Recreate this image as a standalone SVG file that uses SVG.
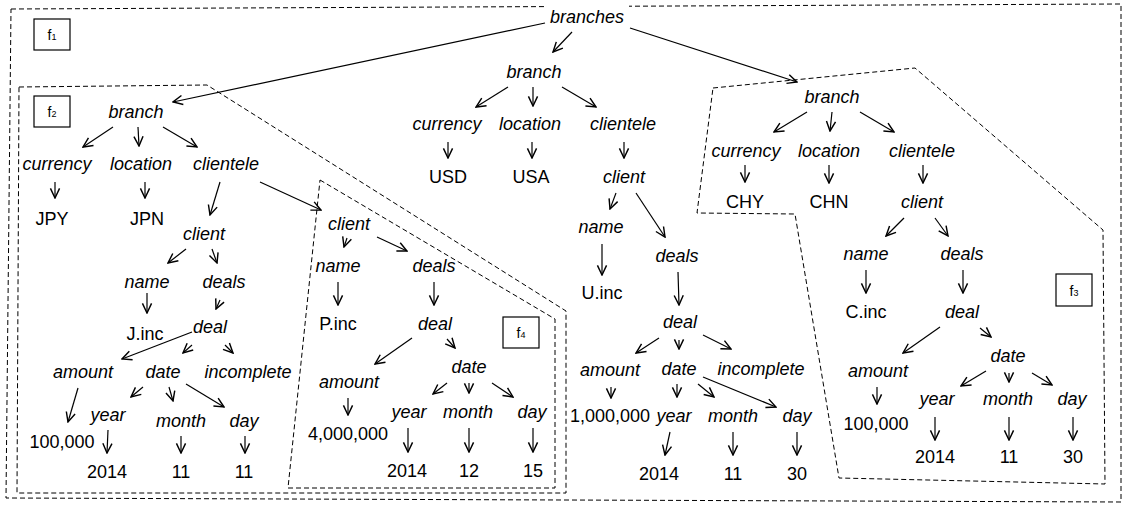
<svg xmlns="http://www.w3.org/2000/svg" width="1126" height="507" viewBox="0 0 1126 507">
  <style>
    text { font-family: "Liberation Sans", Arial, Helvetica, sans-serif; font-size: 18px; fill: #000; text-anchor: middle; }
    .i { font-style: italic; }
    .frag { fill: none; stroke: #000; stroke-width: 1; stroke-dasharray: 5 3; }
    .tag rect { fill: #fff; stroke: #000; stroke-width: 1.2; }
    .tag text { font-size: 14px; }
    .tag tspan { font-size: 9px; }
    #connectors line { stroke: #000; stroke-width: 1.2; marker-end: url(#head); }
  </style>
  <defs>
    <marker id="head" markerUnits="userSpaceOnUse" markerWidth="12" markerHeight="12" viewBox="-9 -5 10 10" refX="0" refY="0" orient="auto">
      <path d="M-8,-3.8 L0,0 L-8,3.8" fill="none" stroke="#000" stroke-width="1.2"/>
    </marker>
  </defs>
  <rect width="1126" height="507" fill="#fff"/>

  <!-- fragment outlines -->
  <g id="fragments">
    <polygon id="f1" class="frag" points="11,9 1121,4 1121,502 6,498"/>
    <polygon id="f2" class="frag" points="19,87 207,85 566,311 566,493 17,493"/>
    <polygon id="f4" class="frag" points="320,180 555,319 555,488 288,488"/>
    <polygon id="f3" class="frag" points="713,88 915,68 1103,230 1105,484 839,478 795,214 697,213"/>
  </g>

  <!-- fragment tags -->
  <g id="tag-f1" class="tag"><rect x="34" y="19" width="36" height="31"/><text x="52" y="40">f<tspan>1</tspan></text></g>
  <g id="tag-f2" class="tag"><rect x="34" y="96" width="36" height="31"/><text x="52" y="117">f<tspan>2</tspan></text></g>
  <g id="tag-f4" class="tag"><rect x="503" y="317" width="36" height="31"/><text x="521" y="338">f<tspan>4</tspan></text></g>
  <g id="tag-f3" class="tag"><rect x="1056" y="274" width="36" height="32"/><text x="1074" y="296">f<tspan>3</tspan></text></g>

  <!-- edges -->
  <g id="connectors">
    <!-- root -->
    <line x1="545" y1="23" x2="173" y2="102"/>
    <line x1="572" y1="32" x2="553" y2="52"/>
    <line x1="630" y1="28" x2="797" y2="82"/>
    <!-- middle branch -->
    <line x1="508" y1="87" x2="476" y2="107"/>
    <line x1="533" y1="87" x2="533" y2="106"/>
    <line x1="562" y1="87" x2="596" y2="107"/>
    <line x1="448" y1="142" x2="448" y2="158"/>
    <line x1="532" y1="142" x2="532" y2="158"/>
    <line x1="624" y1="142" x2="624" y2="158"/>
    <line x1="616" y1="193" x2="610" y2="209"/>
    <line x1="636" y1="193" x2="665" y2="237"/>
    <line x1="602" y1="244" x2="602" y2="275"/>
    <line x1="678" y1="272" x2="679" y2="305"/>
    <line x1="659" y1="338" x2="636" y2="353"/>
    <line x1="679" y1="340" x2="679" y2="349"/>
    <line x1="703" y1="335" x2="731" y2="349"/>
    <line x1="611" y1="387" x2="611" y2="398"/>
    <line x1="677" y1="384" x2="677" y2="397"/>
    <line x1="698" y1="384" x2="714" y2="397"/>
    <line x1="703" y1="377" x2="776" y2="407"/>
    <line x1="670" y1="432" x2="665" y2="455"/>
    <line x1="733" y1="432" x2="733" y2="455"/>
    <line x1="797" y1="432" x2="797" y2="455"/>
    <!-- left branch -->
    <line x1="113" y1="127" x2="83" y2="147"/>
    <line x1="138" y1="127" x2="139" y2="146"/>
    <line x1="163" y1="127" x2="197" y2="147"/>
    <line x1="55" y1="182" x2="55" y2="198"/>
    <line x1="145" y1="182" x2="145" y2="198"/>
    <line x1="220" y1="182" x2="210" y2="215"/>
    <line x1="260" y1="182" x2="321" y2="210"/>
    <line x1="186" y1="249" x2="168" y2="263"/>
    <line x1="212" y1="249" x2="217" y2="263"/>
    <line x1="147" y1="293" x2="147" y2="313"/>
    <line x1="220" y1="300" x2="216" y2="309"/>
    <line x1="192" y1="332" x2="122" y2="359"/>
    <line x1="192" y1="345" x2="183" y2="353"/>
    <line x1="225" y1="345" x2="233" y2="353"/>
    <line x1="78" y1="388" x2="68" y2="422"/>
    <line x1="143" y1="387" x2="131" y2="397"/>
    <line x1="169" y1="387" x2="173" y2="401"/>
    <line x1="186" y1="384" x2="224" y2="407"/>
    <line x1="108" y1="430" x2="107" y2="453"/>
    <line x1="181" y1="436" x2="181" y2="453"/>
    <line x1="245" y1="436" x2="245" y2="453"/>
    <!-- second client -->
    <line x1="347" y1="238" x2="344" y2="247"/>
    <line x1="377" y1="237" x2="407" y2="251"/>
    <line x1="338" y1="282" x2="338" y2="305"/>
    <line x1="434" y1="282" x2="434" y2="305"/>
    <line x1="412" y1="338" x2="375" y2="364"/>
    <line x1="447" y1="339" x2="455" y2="348"/>
    <line x1="348" y1="398" x2="348" y2="415"/>
    <line x1="447" y1="383" x2="433" y2="394"/>
    <line x1="469" y1="383" x2="469" y2="393"/>
    <line x1="492" y1="383" x2="513" y2="397"/>
    <line x1="408" y1="428" x2="408" y2="452"/>
    <line x1="469" y1="428" x2="469" y2="452"/>
    <line x1="533" y1="428" x2="533" y2="452"/>
    <!-- right branch -->
    <line x1="807" y1="112" x2="774" y2="132"/>
    <line x1="832" y1="112" x2="830" y2="131"/>
    <line x1="860" y1="112" x2="894" y2="132"/>
    <line x1="745" y1="165" x2="745" y2="182"/>
    <line x1="829" y1="165" x2="829" y2="183"/>
    <line x1="923" y1="165" x2="923" y2="183"/>
    <line x1="904" y1="218" x2="886" y2="236"/>
    <line x1="935" y1="218" x2="948" y2="236"/>
    <line x1="866" y1="270" x2="866" y2="293"/>
    <line x1="963" y1="270" x2="963" y2="293"/>
    <line x1="940" y1="327" x2="903" y2="353"/>
    <line x1="980" y1="328" x2="991" y2="337"/>
    <line x1="877" y1="387" x2="877" y2="404"/>
    <line x1="986" y1="371" x2="961" y2="386"/>
    <line x1="1009" y1="373" x2="1009" y2="382"/>
    <line x1="1032" y1="373" x2="1052" y2="385"/>
    <line x1="935" y1="417" x2="935" y2="440"/>
    <line x1="1009" y1="417" x2="1009" y2="440"/>
    <line x1="1073" y1="417" x2="1073" y2="440"/>
  </g>

  <!-- root (its label sits on the outer frame line) -->
  <g id="n-branches">
    <rect x="547" y="1" width="82" height="25" fill="#fff"/>
    <text class="i" x="587" y="23">branches</text>
  </g>

  <!-- middle branch (USA) -->
  <g id="m-branch"><text class="i" x="534" y="78">branch</text></g>
  <g id="m-currency"><text class="i" x="447" y="130">currency</text></g>
  <g id="m-location"><text class="i" x="530" y="130">location</text></g>
  <g id="m-clientele"><text class="i" x="623" y="130">clientele</text></g>
  <g id="m-usd"><text x="448" y="183">USD</text></g>
  <g id="m-usa"><text x="531" y="183">USA</text></g>
  <g id="m-client"><text class="i" x="624" y="183">client</text></g>
  <g id="m-name"><text class="i" x="601" y="233">name</text></g>
  <g id="m-deals"><text class="i" x="677" y="262">deals</text></g>
  <g id="m-uinc"><text x="602" y="299">U.inc</text></g>
  <g id="m-deal"><text class="i" x="680" y="328">deal</text></g>
  <g id="m-amount"><text class="i" x="610" y="376">amount</text></g>
  <g id="m-date"><text class="i" x="679" y="375">date</text></g>
  <g id="m-incomplete"><text class="i" x="761" y="375">incomplete</text></g>
  <g id="m-amount-val"><text x="610" y="422">1,000,000</text></g>
  <g id="m-year"><text class="i" x="674" y="422">year</text></g>
  <g id="m-month"><text class="i" x="733" y="422">month</text></g>
  <g id="m-day"><text class="i" x="797" y="422">day</text></g>
  <g id="m-year-val"><text x="659" y="480">2014</text></g>
  <g id="m-month-val"><text x="733" y="480">11</text></g>
  <g id="m-day-val"><text x="797" y="480">30</text></g>

  <!-- left branch (JPN) -->
  <g id="j-branch"><text class="i" x="136" y="118">branch</text></g>
  <g id="j-currency"><text class="i" x="57" y="170">currency</text></g>
  <g id="j-location"><text class="i" x="141" y="170">location</text></g>
  <g id="j-clientele"><text class="i" x="226" y="170">clientele</text></g>
  <g id="j-jpy"><text x="52" y="225">JPY</text></g>
  <g id="j-jpn"><text x="147" y="225">JPN</text></g>
  <g id="j-client"><text class="i" x="204" y="240">client</text></g>
  <g id="j-name"><text class="i" x="147" y="288">name</text></g>
  <g id="j-deals"><text class="i" x="224" y="288">deals</text></g>
  <g id="j-jinc"><text x="145" y="340">J.inc</text></g>
  <g id="j-deal"><text class="i" x="210" y="333">deal</text></g>
  <g id="j-amount"><text class="i" x="83" y="378">amount</text></g>
  <g id="j-date"><text class="i" x="163" y="378">date</text></g>
  <g id="j-incomplete"><text class="i" x="248" y="378">incomplete</text></g>
  <g id="j-year"><text class="i" x="108" y="421">year</text></g>
  <g id="j-month"><text class="i" x="181" y="427">month</text></g>
  <g id="j-day"><text class="i" x="244" y="427">day</text></g>
  <g id="j-amount-val"><text x="62" y="448">100,000</text></g>
  <g id="j-year-val"><text x="107" y="478">2014</text></g>
  <g id="j-month-val"><text x="181" y="478">11</text></g>
  <g id="j-day-val"><text x="244" y="478">11</text></g>

  <!-- second client of the JPN branch -->
  <g id="p-client"><text class="i" x="349" y="230">client</text></g>
  <g id="p-name"><text class="i" x="338" y="272">name</text></g>
  <g id="p-deals"><text class="i" x="434" y="272">deals</text></g>
  <g id="p-pinc"><text x="338" y="330">P.inc</text></g>
  <g id="p-deal"><text class="i" x="435" y="330">deal</text></g>
  <g id="p-date"><text class="i" x="469" y="373">date</text></g>
  <g id="p-amount"><text class="i" x="349" y="388">amount</text></g>
  <g id="p-year"><text class="i" x="409" y="418">year</text></g>
  <g id="p-month"><text class="i" x="468" y="418">month</text></g>
  <g id="p-day"><text class="i" x="532" y="418">day</text></g>
  <g id="p-amount-val"><text x="348" y="440">4,000,000</text></g>
  <g id="p-year-val"><text x="407" y="477">2014</text></g>
  <g id="p-month-val"><text x="469" y="477">12</text></g>
  <g id="p-day-val"><text x="533" y="477">15</text></g>

  <!-- right branch (CHN) -->
  <g id="c-branch"><text class="i" x="832" y="103">branch</text></g>
  <g id="c-currency"><text class="i" x="746" y="157">currency</text></g>
  <g id="c-location"><text class="i" x="829" y="157">location</text></g>
  <g id="c-clientele"><text class="i" x="922" y="157">clientele</text></g>
  <g id="c-chy"><text x="745" y="208">CHY</text></g>
  <g id="c-chn"><text x="829" y="208">CHN</text></g>
  <g id="c-client"><text class="i" x="922" y="208">client</text></g>
  <g id="c-name"><text class="i" x="866" y="260">name</text></g>
  <g id="c-deals"><text class="i" x="962" y="260">deals</text></g>
  <g id="c-cinc"><text x="866" y="318">C.inc</text></g>
  <g id="c-deal"><text class="i" x="962" y="318">deal</text></g>
  <g id="c-date"><text class="i" x="1008" y="362">date</text></g>
  <g id="c-amount"><text class="i" x="878" y="377">amount</text></g>
  <g id="c-year"><text class="i" x="937" y="405">year</text></g>
  <g id="c-month"><text class="i" x="1008" y="405">month</text></g>
  <g id="c-day"><text class="i" x="1072" y="405">day</text></g>
  <g id="c-amount-val"><text x="876" y="430">100,000</text></g>
  <g id="c-year-val"><text x="935" y="463">2014</text></g>
  <g id="c-month-val"><text x="1009" y="463">11</text></g>
  <g id="c-day-val"><text x="1073" y="463">30</text></g>
</svg>
